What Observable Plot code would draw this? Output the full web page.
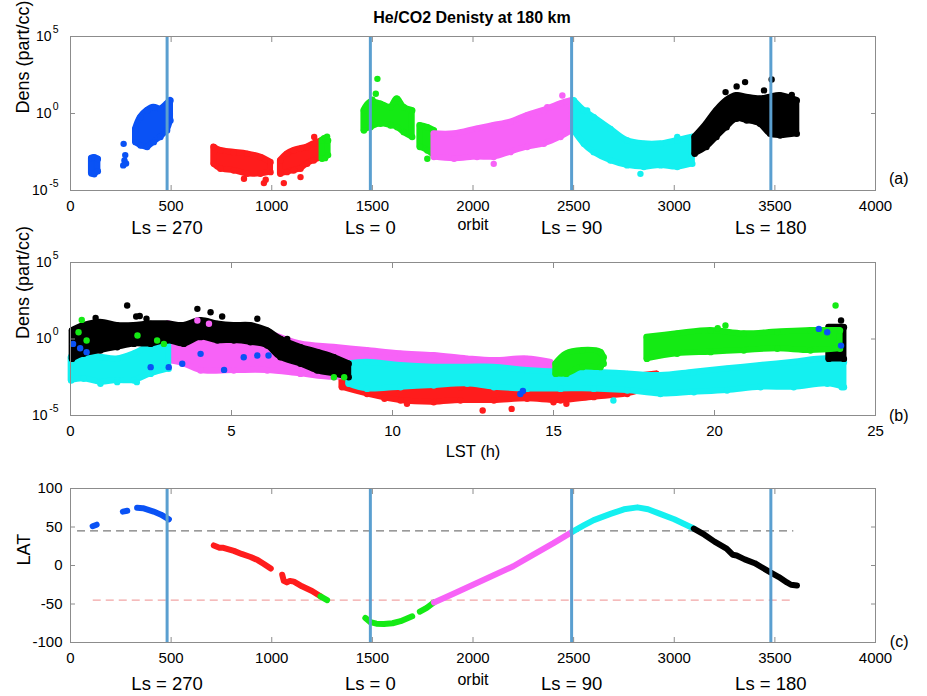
<!DOCTYPE html>
<html><head><meta charset="utf-8">
<script src="https://cdn.jsdelivr.net/npm/d3@7"></script>
<script src="https://cdn.jsdelivr.net/npm/@observablehq/plot@0.6"></script>
<style>
body{margin:0;background:#fff;}
#wrap{position:relative;width:927px;height:696px;font-family:"Liberation Sans",Arial,sans-serif;overflow:hidden;}
#title{position:absolute;top:9px;left:17px;width:910px;text-align:center;font-weight:bold;font-size:16px;color:#000;}
#wrap svg{position:absolute;left:0;}
</style></head><body>
<div id="wrap"><div id="title">He/CO2 Denisty at 180 km</div></div>
<script>
// ---------- shared ----------
const colors = {blue:"#0a52f5", red:"#ff1c1c", green:"#14ea14", magenta:"#f762f7", cyan:"#14f0f0", black:"#000000"};
const lsOrbits = [480, 1490, 2490, 3480];
const lsLabels = ["Ls = 270", "Ls = 0", "Ls = 90", "Ls = 180"];
const orbitTicks = [0, 500, 1000, 1500, 2000, 2500, 3000, 3500, 4000];
const lstTicks = [0, 5, 10, 15, 20, 25];
const densTicks = [1e-5, 1, 1e5];
const densExponents = ["-5", "0", "5"];
const latTicks = [-100, -50, 0, 50, 100];
const latTickLabels = ["-100", "-50", "0", "50", "100"];

// ---------- panel (a): density vs orbit, [orbit, log10 low, log10 high] ----------
const aBlueA = [[104,-3.9,-2.9],[118,-3.95,-2.85],[136,-3.75,-2.95]];
const aBlueB = [[323,-1.86,-1.0],[348,-2.08,-0.24],[381,-2.18,0.2],[414,-1.86,0.41],[447,-1.53,0.3],[480,-1.1,0.63],[497,-0.45,0.85]];
const aRedA = [[712,-3.27,-2.18],[745,-3.59,-2.4],[811,-3.7,-2.51],[878,-3.92,-2.62],[944,-3.92,-2.83],[994,-3.81,-3.16]];
const aRedB = [[1043,-3.92,-3.05],[1076,-3.81,-2.62],[1109,-3.7,-2.4],[1143,-3.59,-2.29],[1176,-3.27,-2.18],[1209,-3.05,-1.97],[1250,-2.83,-1.75]];
const aGreenA = [[1250,-2.94,-1.75],[1265,-2.9,-1.6],[1280,-2.7,-1.75]];
const aGreenB = [[1458,-1.1,0.2],[1491,-0.89,0.74],[1540,-0.67,0.63],[1590,-0.78,0.41],[1623,-0.89,0.95],[1656,-1.21,0.41],[1698,-1.53,0.2]];
const aGreenC = [[1736,-2.18,-0.78],[1773,-2.4,-0.89],[1806,-2.73,-1.1]];
const aMagenta = [[1806,-2.83,-1.32],[1906,-2.94,-1.32],[2020,-2.83,-1.0],[2103,-2.83,-0.78],[2186,-2.51,-0.56],[2269,-2.18,-0.13],[2352,-1.97,0.2],[2435,-1.53,0.63],[2493,-1.1,0.85]];
const aCyan = [[2501,-1.1,0.85],[2551,-1.97,0.2],[2600,-2.51,-0.24],[2683,-3.05,-1.0],[2766,-3.37,-1.75],[2849,-3.48,-1.97],[2932,-3.37,-1.97],[3015,-3.48,-1.75],[3090,-3.27,-1.53]];
const aBlack = [[3102,-2.62,-1.53],[3160,-2.18,-0.67],[3210,-1.53,0.2],[3260,-0.89,0.85],[3310,-0.34,1.17],[3360,-0.45,1.06],[3426,-0.67,0.95],[3476,-1.32,1.06],[3526,-1.43,1.17],[3609,-1.32,0.85]];
const aDots = [
  [264,-1.97,"blue"],[272,-2.7,"blue"],[268,-3.05,"blue"],[262,-3.37,"blue"],[276,-3.25,"blue"],
  [862,-4.24,"red"],[961,-4.52,"red"],[970,-4.3,"red"],[1060,-4.52,"red"],[1143,-4.13,"red"],[1211,-1.53,"red"],
  [1275,-1.5,"green"],[1525,2.25,"green"],[1517,1.28,"green"],[1500,0.9,"green"],[1773,-2.94,"green"],
  [2444,1.17,"magenta"],[2369,0.41,"magenta"],[2103,-3.27,"magenta"],
  [2832,-3.92,"cyan"],[2567,0.2,"cyan"],[3015,-1.53,"cyan"],
  [3255,1.39,"black"],[3310,1.76,"black"],[3352,2.04,"black"],[3446,1.5,"black"],[3484,2.21,"black"],[3584,1.21,"black"]
];

// ---------- panel (b): density vs LST, [LST h, log10 low, log10 high] ----------
const bRed = [[8.43,-3.15,-2.6],[9.21,-3.59,-2.82],[10.25,-4.02,-2.93],[11.28,-4.13,-3.04],[12.11,-4.02,-3.15],[13.15,-4.02,-3.04],[14.18,-3.91,-2.82],[15.22,-4.02,-2.71],[16.25,-3.8,-2.71],[17.29,-3.59,-2.5],[18.2,-3.04,-2.28]];
const bMagenta = [[3.05,-1.41,0.99],[3.52,-1.62,0.77],[4.04,-2.06,0.77],[5.07,-2.06,0.55],[6.11,-2.06,0.34],[7.14,-2.28,-0.32],[8.18,-2.5,-0.54],[9.21,-2.28,-0.75],[10.25,-2.28,-0.97],[11.28,-2.5,-1.08],[12.32,-2.5,-1.3],[13.15,-2.5,-1.41],[14.18,-2.5,-1.3],[14.9,-2.5,-1.52]];
const bCyanA = [[0.02,-2.71,-1.19],[0.41,-2.6,-1.08],[0.93,-2.82,-1.19],[1.45,-2.71,-1.3],[1.97,-2.71,-0.97],[2.49,-2.28,-0.43],[3.05,-1.95,-0.1]];
const bCyanB = [[8.64,-2.93,-1.62],[9.21,-3.26,-1.52],[10.25,-3.15,-1.73],[11.28,-3.04,-1.84],[12.32,-2.93,-1.84],[13.15,-3.15,-1.84],[14.18,-3.26,-2.06],[15.22,-3.26,-2.17],[16.25,-3.26,-2.17],[17.29,-3.37,-2.28],[18.32,-3.59,-2.39],[19.36,-3.48,-2.17],[20.39,-3.37,-1.95],[21.43,-3.15,-1.73],[22.46,-3.15,-1.52],[23.5,-2.93,-1.3],[24.02,-3.15,-1.52]];
const bBlackA = [[0.05,-1.3,0.55],[0.41,-0.97,0.88],[0.93,-0.75,1.1],[1.45,-0.54,0.88],[1.97,-0.32,0.88],[2.49,-0.32,0.99],[3.0,-0.1,0.99],[3.52,-0.32,0.88],[4.04,0.12,1.21],[4.56,-0.1,0.99],[5.07,-0.1,0.88],[5.59,-0.21,0.88],[6.11,-0.43,0.55],[6.52,-1.19,0.01],[7.14,-1.62,-0.54],[7.66,-2.06,-0.86],[8.18,-2.28,-1.19],[8.64,-2.5,-1.62]];
const bBlackB = [[23.55,-1.3,0.77],[24.02,-1.3,0.77]];
const bGreenA = [[15.07,-2.28,-1.62],[15.4,-2.28,-0.97],[15.9,-1.84,-0.75],[16.46,-1.84,-0.86],[16.56,-1.62,-1.19]];
const bGreenB = [[17.9,-1.3,0.12],[18.84,-0.97,0.34],[19.88,-0.86,0.55],[20.91,-0.75,0.34],[21.95,-0.64,0.45],[22.98,-0.75,0.55],[23.9,-0.64,0.55]];
const bDots = [
  [10.45,-4.24,"red"],[12.8,-4.67,"red"],[9.75,-3.91,"red"],[13.7,-4.57,"red"],[15.4,-4.24,"red"],[15.0,-4.13,"red"],
  [3.94,1.21,"magenta"],[4.3,1.0,"magenta"],
  [0.93,-2.93,"cyan"],[1.45,-2.82,"cyan"],[2.06,-2.82,"cyan"],[16.86,-4.02,"cyan"],[23.95,-3.15,"cyan"],
  [1.76,2.19,"black"],[2.04,1.47,"black"],[2.15,1.5,"black"],[2.36,1.32,"black"],[0.78,1.38,"black"],[3.94,1.97,"black"],[4.35,1.75,"black"],[4.71,1.47,"black"],[5.8,1.32,"black"],[6.73,0.01,"black"],[23.93,1.21,"black"],
  [0.35,1.25,"green"],[0.25,0.44,"green"],[2.08,0.23,"green"],[2.69,-0.1,"green"],[2.9,-0.32,"green"],[0.5,-0.1,"green"],[8.18,-2.5,"green"],[8.5,-2.5,"green"],[23.76,2.19,"green"],[20.34,0.88,"green"],[20.1,0.7,"green"],
  [0.08,-0.32,"blue"],[0.3,-0.6,"blue"],[0.5,-0.86,"blue"],[2.49,-1.84,"blue"],[3.05,-1.84,"blue"],[3.47,-1.62,"blue"],[4.04,-0.97,"blue"],[4.77,-2.02,"blue"],[5.38,-1.19,"blue"],[5.8,-1.08,"blue"],[6.15,-1.08,"blue"],[13.97,-3.59,"blue"],[14.05,-3.4,"blue"],[23.24,0.66,"blue"],[23.5,0.44,"blue"],[23.93,-0.43,"blue"]
];

// ---------- panel (c): latitude vs orbit, [orbit, LAT] ----------
const cBlueA = [[110,51],[130,53]];
const cBlueB = [[260,70],[282,71]];
const cBlueC = [[331,75],[360,74.5],[413,70],[450,66],[489,60]];
const cRedA = [[712,26],[740,23],[760,23],[812,19],[850,15],[895,11],[930,7],[961,2],[995,-4]];
const cRedB = [[1052,-12],[1060,-20],[1075,-22],[1090,-20],[1110,-21],[1150,-27],[1200,-33],[1242,-40]];
const cGreenA = [[1242,-40],[1275,-45]];
const cGreenB = [[1465,-68],[1490,-73.5],[1520,-75.5],[1557,-76],[1600,-75],[1640,-72.3],[1698,-66]];
const cGreenC = [[1736,-60],[1770,-55],[1806,-48]];
const cMagenta = [[1806,-48],[1900,-37],[2000,-25],[2100,-13],[2200,-1],[2300,14],[2400,29],[2495,44]];
const cCyan = [[2495,44],[2550,52],[2600,59],[2683,67],[2750,73],[2817,75.5],[2870,73],[2930,67],[3000,60],[3097,48]];
const cBlack = [[3097,48],[3150,40],[3200,31],[3260,22],[3290,14],[3310,13],[3350,8],[3400,3],[3478,-9],[3520,-15],[3560,-22],[3580,-25],[3610,-26]];
const dashLevels = [45, -45];
const dashStarts = [35, 113];
const dashEnd = 3594;
const dashColors = ["#7a7a7a", "#f2a5a5"];

// ---------- helpers ----------
const font = "'Liberation Sans', Arial, sans-serif";
const frameGrey = "#8c8c8c";
const lineBlue = "#5a9fd0";

function cloud(rows, key) {
  const c = colors[key];
  const base = {x: d => d[0], y1: d => 10 ** d[1], y2: d => 10 ** d[2], curve: "catmull-rom"};
  return [
    Plot.areaY(rows, {...base, fill: c}),
    Plot.areaY(rows, {...base, fill: "none", stroke: c, strokeWidth: 6, strokeLinejoin: "round"}),
    Plot.dot(rows, {x: d => d[0], y: d => 10 ** d[1], r: 3.2, fill: c}),
    Plot.dot(rows, {x: d => d[0], y: d => 10 ** d[2], r: 3.2, fill: c})
  ];
}
function dots(rows) {
  return Plot.dot(rows, {x: d => d[0], y: d => 10 ** d[1], r: 3.2, fill: d => colors[d[2]]});
}
function track(rows, key) {
  return Plot.line(rows, {x: d => d[0], y: d => d[1], stroke: colors[key], strokeWidth: 6, strokeLinecap: "round", strokeLinejoin: "round"});
}
function xAxes(ticks) {
  return [
    Plot.axisX(ticks, {anchor: "bottom", tickSize: -5, tickPadding: 15, stroke: frameGrey, fill: "#000", fontSize: 15, label: null, tickFormat: d => String(d)}),
    Plot.axisX(ticks, {anchor: "top", tickSize: -5, stroke: frameGrey, label: null, tickFormat: () => ""})
  ];
}
function yTicksOnly(ticks) {
  return [
    Plot.axisY(ticks, {anchor: "left", tickSize: -5, stroke: frameGrey, label: null, tickFormat: () => ""}),
    Plot.axisY(ticks, {anchor: "right", tickSize: -5, stroke: frameGrey, label: null, tickFormat: () => ""})
  ];
}
function densLabels() {
  // "10" base plus superscript exponent, right-aligned near the frame
  return [
    Plot.text(densTicks, {y: d => d, text: () => "10", frameAnchor: "left", dx: -19, textAnchor: "end", fontSize: 14, filter: d => d >= 1}),
    Plot.text(densTicks, {y: d => d, text: () => "10", frameAnchor: "left", dx: -23, textAnchor: "end", fontSize: 14, filter: d => d < 1}),
    Plot.text(densTicks, {y: d => d, text: d => densExponents[densTicks.indexOf(d)], frameAnchor: "left", dx: -12, dy: -7, textAnchor: "end", fontSize: 10.5})
  ];
}
const baseStyle = {fontFamily: font, fontSize: "15px", background: "transparent", color: "#000", overflow: "visible"};
const wrap = document.getElementById("wrap");

// ---------- panel (a) ----------
const pa = Plot.plot({
  width: 927, height: 222, marginTop: 16, marginBottom: 52, marginLeft: 70, marginRight: 52,
  style: baseStyle,
  x: {domain: [0, 4000]},
  y: {type: "log", domain: [1e-5, 1e5]},
  color: {type: "identity"},
  marks: [
    ...cloud(aBlueA, "blue"), ...cloud(aBlueB, "blue"),
    ...cloud(aRedA, "red"), ...cloud(aRedB, "red"),
    ...cloud(aGreenA, "green"), ...cloud(aGreenB, "green"), ...cloud(aGreenC, "green"),
    ...cloud(aMagenta, "magenta"), ...cloud(aCyan, "cyan"), ...cloud(aBlack, "black"),
    dots(aDots),
    Plot.ruleX(lsOrbits, {stroke: lineBlue, strokeWidth: 3}),
    Plot.frame({stroke: frameGrey}),
    ...xAxes(orbitTicks), ...yTicksOnly(densTicks), ...densLabels(),
    Plot.text(lsLabels, {x: (d, i) => lsOrbits[i], frameAnchor: "bottom", dy: 43, fontSize: 18.5}),
    Plot.text(["orbit"], {x: [2000], frameAnchor: "bottom", dy: 39, fontSize: 16}),
    Plot.text(["Dens (part/cc)"], {frameAnchor: "left", dx: -47, rotate: -90, fontSize: 18}),
    Plot.text(["(a)"], {frameAnchor: "bottom-right", dx: 33, dy: -7, fontSize: 16})
  ]
});
pa.style.top = "20px";
wrap.appendChild(pa);

// ---------- panel (b) ----------
const pb = Plot.plot({
  width: 927, height: 221, marginTop: 20, marginBottom: 48, marginLeft: 70, marginRight: 52,
  style: baseStyle,
  x: {domain: [0, 25]},
  y: {type: "log", domain: [1e-5, 1e5]},
  color: {type: "identity"},
  marks: [
    ...cloud(bRed, "red"), ...cloud(bMagenta, "magenta"),
    ...cloud(bCyanA, "cyan"), ...cloud(bCyanB, "cyan"),
    ...cloud(bBlackA, "black"), ...cloud(bBlackB, "black"),
    ...cloud(bGreenA, "green"), ...cloud(bGreenB, "green"),
    dots(bDots),
    Plot.frame({stroke: frameGrey}),
    ...xAxes(lstTicks), ...yTicksOnly(densTicks), ...densLabels(),
    Plot.text(["LST (h)"], {x: [12.5], frameAnchor: "bottom", dy: 41, fontSize: 16.5}),
    Plot.text(["Dens (part/cc)"], {frameAnchor: "left", dx: -47, rotate: -90, fontSize: 18}),
    Plot.text(["(b)"], {frameAnchor: "bottom-right", dx: 33, dy: 5, fontSize: 16})
  ]
});
pb.style.top = "242px";
wrap.appendChild(pb);

// ---------- panel (c) ----------
const pc = Plot.plot({
  width: 927, height: 233, marginTop: 25, marginBottom: 54, marginLeft: 70, marginRight: 52,
  style: baseStyle,
  x: {domain: [0, 4000]},
  y: {domain: [-100, 100]},
  color: {type: "identity"},
  marks: [
    Plot.ruleY(dashLevels, {x1: (d, i) => dashStarts[i], x2: dashEnd, stroke: (d, i) => dashColors[i], strokeWidth: 1.3, strokeDasharray: "8,5"}),
    track(cBlueA, "blue"), track(cBlueB, "blue"), track(cBlueC, "blue"),
    track(cRedA, "red"), track(cRedB, "red"),
    track(cGreenA, "green"), track(cGreenB, "green"), track(cGreenC, "green"),
    track(cMagenta, "magenta"), track(cCyan, "cyan"), track(cBlack, "black"),
    Plot.ruleX(lsOrbits, {stroke: lineBlue, strokeWidth: 3}),
    Plot.frame({stroke: frameGrey}),
    ...xAxes(orbitTicks),
    Plot.axisY(latTicks, {anchor: "left", tickSize: -5, tickPadding: 13, stroke: frameGrey, fill: "#000", fontSize: 15, label: null, tickFormat: d => latTickLabels[latTicks.indexOf(d)]}),
    Plot.axisY(latTicks, {anchor: "right", tickSize: -5, stroke: frameGrey, label: null, tickFormat: () => ""}),
    Plot.text(lsLabels, {x: (d, i) => lsOrbits[i], frameAnchor: "bottom", dy: 47, fontSize: 18.5}),
    Plot.text(["orbit"], {x: [2000], frameAnchor: "bottom", dy: 42, fontSize: 16}),
    Plot.text(["LAT"], {frameAnchor: "left", dx: -46, rotate: -90, fontSize: 18}),
    Plot.text(["(c)"], {frameAnchor: "bottom-right", dx: 33, dy: 4, fontSize: 16})
  ]
});
pc.style.top = "463px";
wrap.appendChild(pc);
</script>
</body></html>
